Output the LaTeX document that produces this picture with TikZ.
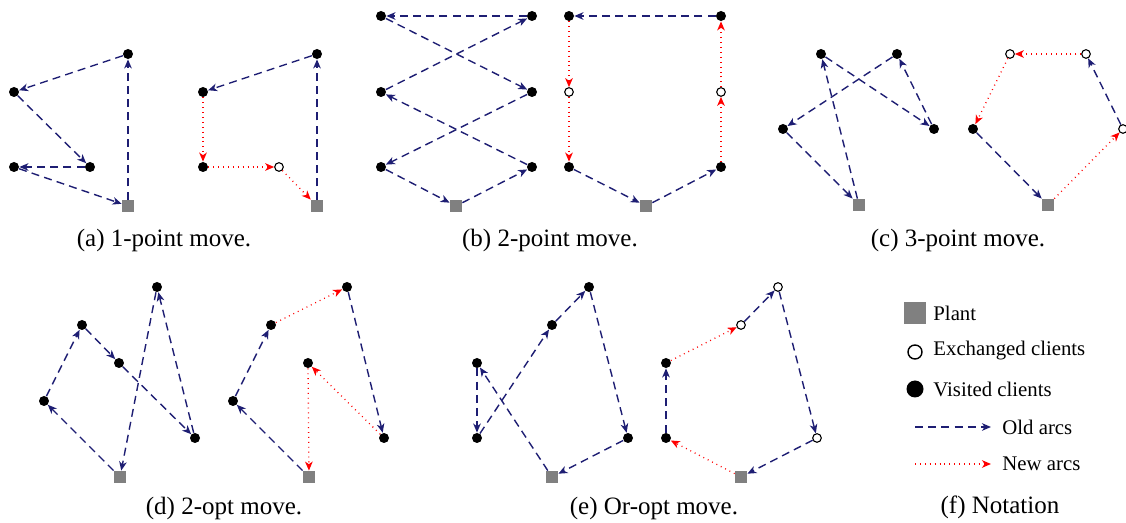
\documentclass[tikz,border=0pt]{standalone}
\usepackage{fontspec}
\setmainfont{Liberation Serif}
\usetikzlibrary{arrows.meta}
\definecolor{navyarc}{RGB}{30,30,115}
\definecolor{plantgray}{RGB}{128,128,128}
\tikzset{
  cl/.style={circle,fill=black,inner sep=0pt,minimum size=5pt},
  ex/.style={circle,draw=black,fill=white,line width=0.55pt,inner sep=0pt,minimum size=4.3pt},
  pl/.style={rectangle,fill=plantgray,inner sep=0pt,minimum size=6pt},
  oldarc/.style={draw=navyarc,line width=0.7pt,dash pattern=on 4pt off 2.6pt,-{Stealth[length=4.5pt,width=3.8pt,inset=1.3pt]}},
  newarc/.style={draw=red,line width=0.65pt,dash pattern=on 0.45pt off 2pt,-{Stealth[length=4.5pt,width=3.8pt,inset=1.3pt]}},
  captext/.style={font=\fontsize{12.5}{14}\selectfont,inner sep=0pt},
  legtext/.style={font=\fontsize{10.4}{12}\selectfont,inner sep=0pt,anchor=west}
}
\begin{document}
\begin{tikzpicture}[x=0.5pt,y=-0.5pt]
\useasboundingbox (0,0) rectangle (1126,523);
% (a) left
\node[cl] (a1) at (128,54) {};
\node[cl] (a2) at (14,92) {};
\node[cl] (a3) at (90,167) {};
\node[cl] (a4) at (14,167) {};
\node[pl] (aP) at (128,206) {};
\draw[oldarc] (aP) -- (a1);
\draw[oldarc] (a1) -- (a2);
\draw[oldarc] (a2) -- (a3);
\draw[oldarc] (a3) -- (a4);
\draw[oldarc] (a4) -- (aP);
% (a) right
\node[cl] (A1) at (317,54) {};
\node[cl] (A2) at (203,92) {};
\node[cl] (A3) at (203,167) {};
\node[ex] (A4) at (279,167) {};
\node[pl] (AP) at (317,206) {};
\draw[oldarc] (AP) -- (A1);
\draw[oldarc] (A1) -- (A2);
\draw[newarc] (A2) -- (A3);
\draw[newarc] (A3) -- (A4);
\draw[newarc] (A4) -- (AP);
\node[captext] (capa) at (164,240) {(a) 1-point move.};
% (b) left
\node[cl] (b1) at (381,16) {};
\node[cl] (b2) at (532,16) {};
\node[cl] (b3) at (381,92) {};
\node[cl] (b4) at (532,92) {};
\node[cl] (b5) at (381,167) {};
\node[cl] (b6) at (532,167) {};
\node[pl] (bP) at (456,206) {};
\draw[oldarc] (bP) -- (b6);
\draw[oldarc] (b6) -- (b3);
\draw[oldarc] (b3) -- (b2);
\draw[oldarc] (b2) -- (b1);
\draw[oldarc] (b1) -- (b4);
\draw[oldarc] (b4) -- (b5);
\draw[oldarc] (b5) -- (bP);
% (b) right
\node[cl] (B1) at (569,16) {};
\node[cl] (B2) at (721,16) {};
\node[ex] (B3) at (569,92) {};
\node[ex] (B4) at (721,92) {};
\node[cl] (B5) at (569,167) {};
\node[cl] (B6) at (721,167) {};
\node[pl] (BP) at (646,206) {};
\draw[oldarc] (BP) -- (B6);
\draw[newarc] (B6) -- (B4);
\draw[newarc] (B4) -- (B2);
\draw[oldarc] (B2) -- (B1);
\draw[newarc] (B1) -- (B3);
\draw[newarc] (B3) -- (B5);
\draw[oldarc] (B5) -- (BP);
\node[captext] (capb) at (550,240) {(b) 2-point move.};
% (c) left
\node[cl] (c1) at (821,54) {};
\node[cl] (c2) at (897,54) {};
\node[cl] (c3) at (783,129) {};
\node[cl] (c4) at (934,129) {};
\node[pl] (cP) at (859,205) {};
\draw[oldarc] (cP) -- (c1);
\draw[oldarc] (c1) -- (c4);
\draw[oldarc] (c4) -- (c2);
\draw[oldarc] (c2) -- (c3);
\draw[oldarc] (c3) -- (cP);
% (c) right
\node[ex] (C1) at (1010,54) {};
\node[ex] (C2) at (1086,54) {};
\node[cl] (C3) at (973,129) {};
\node[ex] (C4) at (1123,129) {};
\node[pl] (CP) at (1048,205) {};
\draw[newarc] (CP) -- (C4);
\draw[oldarc] (C4) -- (C2);
\draw[newarc] (C2) -- (C1);
\draw[newarc] (C1) -- (C3);
\draw[oldarc] (C3) -- (CP);
\node[captext] (capc) at (958,240) {(c) 3-point move.};
% (d) left
\node[cl] (d1) at (157,287) {};
\node[cl] (d2) at (82,325) {};
\node[cl] (d3) at (119,363) {};
\node[cl] (d4) at (44,401) {};
\node[cl] (d5) at (195,438) {};
\node[pl] (dP) at (120,477) {};
\draw[oldarc] (dP) -- (d4);
\draw[oldarc] (d4) -- (d2);
\draw[oldarc] (d2) -- (d3);
\draw[oldarc] (d3) -- (d5);
\draw[oldarc] (d5) -- (d1);
\draw[oldarc] (d1) -- (dP);
% (d) right
\node[cl] (D1) at (347,287) {};
\node[cl] (D2) at (271,325) {};
\node[cl] (D3) at (308,363) {};
\node[cl] (D4) at (233,401) {};
\node[cl] (D5) at (384,438) {};
\node[pl] (DP) at (309,477) {};
\draw[oldarc] (DP) -- (D4);
\draw[oldarc] (D4) -- (D2);
\draw[newarc] (D2) -- (D1);
\draw[oldarc] (D1) -- (D5);
\draw[newarc] (D5) -- (D3);
\draw[newarc] (D3) -- (DP);
\node[captext] (capd) at (224,508) {(d) 2-opt move.};
% (e) left
\node[cl] (e1) at (589,287) {};
\node[cl] (e2) at (552,325) {};
\node[cl] (e3) at (477,363) {};
\node[cl] (e4) at (477,438) {};
\node[cl] (e5) at (628,438) {};
\node[pl] (eP) at (552,477) {};
\draw[oldarc] (eP) -- (e3);
\draw[oldarc] (e3) -- (e4);
\draw[oldarc] (e4) -- (e2);
\draw[oldarc] (e2) -- (e1);
\draw[oldarc] (e1) -- (e5);
\draw[oldarc] (e5) -- (eP);
% (e) right
\node[ex] (E1) at (778,287) {};
\node[ex] (E2) at (741,325) {};
\node[cl] (E3) at (666,363) {};
\node[cl] (E4) at (666,438) {};
\node[ex] (E5) at (817,438) {};
\node[pl] (EP) at (741,477) {};
\draw[newarc] (EP) -- (E4);
\draw[oldarc] (E4) -- (E3);
\draw[newarc] (E3) -- (E2);
\draw[oldarc] (E2) -- (E1);
\draw[oldarc] (E1) -- (E5);
\draw[oldarc] (E5) -- (EP);
\node[captext] (cape) at (654,508) {(e) Or-opt move.};
% (f) legend
\node[pl,minimum size=11pt] (lp) at (915,313) {};
\node[legtext] (lpt) at (933,313) {Plant};
\node[ex,minimum size=7pt,line width=0.7pt] (le) at (915,352) {};
\node[legtext] (let) at (933,351) {Exchanged clients};
\node[cl,minimum size=8.5pt] (lv) at (915,389) {};
\node[legtext] (lvt) at (933,389) {Visited clients};
\coordinate (lo1) at (915,427);
\coordinate (lo2) at (991,427);
\draw[oldarc] (lo1) -- (lo2);
\node[legtext] (lot) at (1002,427) {Old arcs};
\coordinate (ln1) at (915,464);
\coordinate (ln2) at (991,464);
\draw[newarc] (ln1) -- (ln2);
\node[legtext] (lnt) at (1002,464) {New arcs};
\node[captext] (capf) at (1000,507) {(f) Notation};
\end{tikzpicture}
\end{document}
